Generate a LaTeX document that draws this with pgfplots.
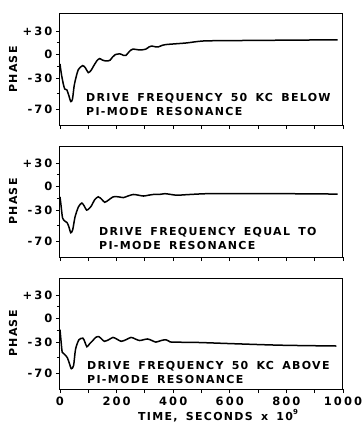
\documentclass[border=0pt]{standalone}
\usepackage{pgfplots}
\pgfplotsset{compat=1.18}
\usepackage{fontspec}
\newfontfamily\lbl{DejaVu Sans}[LetterSpace=12, WordSpace=1.6]
\newfontfamily\tlbl{DejaVu Sans}[LetterSpace=18]
\begin{document}
\begin{tikzpicture}
\useasboundingbox (-60pt,125pt) rectangle (304pt,-304pt);
\pgfplotsset{
  panel/.style={
    scale only axis, width=283pt, height=111pt,
    xmin=0, xmax=1000, ymin=-90, ymax=52,
    xtick={0,100,...,1000},
    ytick={-70,-30,0,30},
    yticklabels={-\,70,-\,30,0,+30},
    minor ytick={-50,-15,15},
    tick align=outside, xtick pos=bottom, ytick pos=left,
    major tick length=4pt, minor tick length=3pt,
    axis line style={line width=1pt},
    every tick/.style={line width=0.9pt, black},
    tick label style={font=\tlbl\bfseries\fontsize{11.5}{13}\selectfont},
    /pgf/number format/assume math mode=true,
  },
  curve/.style={black, line width=1.5pt, smooth, tension=0.45, no marks},
}
% Panel 1: below
\begin{axis}[panel, name=ax1, at={(0,0)}, xticklabels={}]
\addplot[curve] coordinates {
(0,-12) (5,-25) (12,-38) (17,-44) (24,-45) (31,-52) (38,-60) (44,-57)
(50,-40) (56,-30) (65,-19) (80,-14) (90,-17) (100,-23) (110,-20) (118,-15)
(130,-8) (140,-5) (150,-7) (160,-8) (170,-8) (177,-7) (186,-3) (195,0)
(212,1) (225,-1) (233,-1) (245,4) (257,7) (283,6) (303,7) (315,10) (324,11)
(338,10) (348,10) (362,12) (377,13) (413,14) (448,15) (507,17.5) (613,18)
(790,18.5) (981,19)
};
\end{axis}
% Panel 2: equal
\begin{axis}[panel, name=ax2, at={(0,-132pt)}, xticklabels={}]
\addplot[curve] coordinates {
(0,-13) (4,-25) (9,-40) (17,-44) (25,-46) (32,-52) (38,-59) (45,-55)
(53,-39) (65,-26) (77,-21) (86,-25) (94,-30) (103,-28) (112,-24) (122,-17)
(135,-13) (147,-16) (158,-20) (172,-17) (188,-13) (206,-13) (224,-14)
(240,-12) (259,-10) (278,-11) (295,-12) (312,-11) (330,-10) (350,-10)
(371,-9) (392,-10) (413,-11) (437,-10.5) (460,-10) (519,-9) (613,-9)
(790,-9) (981,-9.5)
};
\end{axis}
% Panel 3: above
\begin{axis}[panel, name=ax3, at={(0,-264pt)},
  xticklabels={0,,200,,400,,600,,800,,1000}]
\addplot[curve] coordinates {
(0,-14) (4,-30) (8,-43) (17,-46) (26,-50) (33,-57) (40,-64) (48,-60)
(55,-39) (67,-27) (81,-25) (88,-30) (95,-36) (105,-32) (116,-28) (126,-24)
(137,-23) (147,-26) (157,-29) (172,-27) (187,-24) (200,-26) (216,-29)
(233,-27) (251,-24) (266,-26) (281,-28) (295,-27) (310,-26) (325,-28)
(339,-30) (357,-28) (374,-27) (386,-29) (397,-30) (490,-30.5) (608,-32)
(783,-34) (977,-35)
};
\end{axis}
% annotations
\begin{scope}[every node/.style={font=\lbl\bfseries\fontsize{11}{13}\selectfont, inner sep=0pt}]
\node[anchor=base west] at ([shift={(26pt,24pt)}]ax1.south west) {DRIVE FREQUENCY 50 KC BELOW};
\node[anchor=base west] at ([shift={(26pt,10pt)}]ax1.south west) {PI-MODE RESONANCE};
\node[anchor=base west] at ([shift={(39pt,22pt)}]ax2.south west) {DRIVE FREQUENCY EQUAL TO};
\node[anchor=base west] at ([shift={(39pt,8pt)}]ax2.south west) {PI-MODE RESONANCE};
\node[anchor=base west] at ([shift={(27pt,20pt)}]ax3.south west) {DRIVE FREQUENCY 50 KC ABOVE};
\node[anchor=base west] at ([shift={(27pt,6pt)}]ax3.south west) {PI-MODE RESONANCE};
\node[rotate=90] at ([xshift=-47pt]ax1.west) {PHASE};
\node[rotate=90] at ([xshift=-47pt]ax2.west) {PHASE};
\node[rotate=90] at ([xshift=-47pt]ax3.west) {PHASE};
\node[anchor=base] at ([shift={(158pt,-31pt)}]ax3.south west) {TIME, SECONDS x 10\raisebox{0.9ex}{\fontsize{7}{8}\selectfont 9}};
\end{scope}
\end{tikzpicture}
\end{document}
